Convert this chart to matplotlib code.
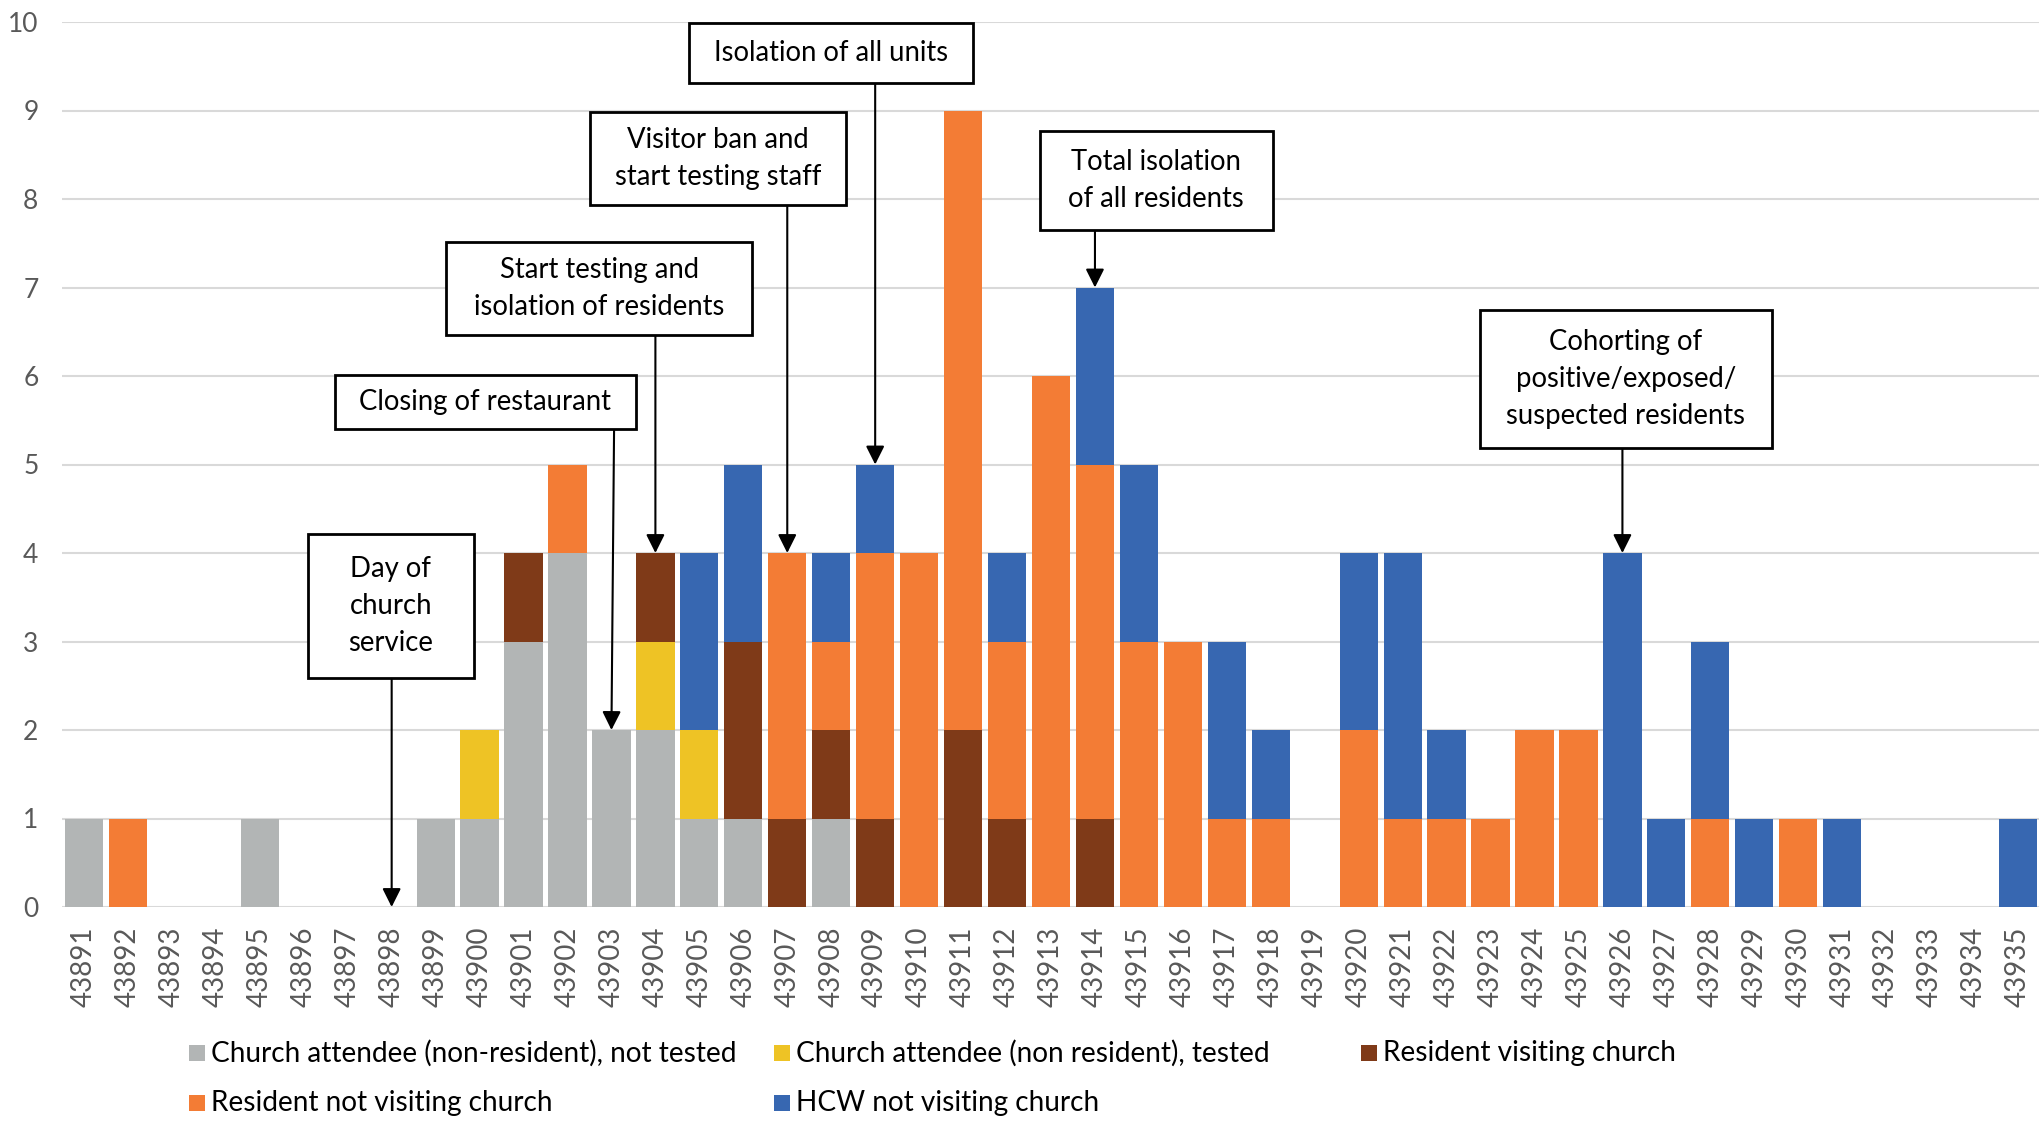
import matplotlib
matplotlib.use("Agg")
import matplotlib.pyplot as plt
from matplotlib.patches import Rectangle
import numpy as np

plt.rcParams['font.family'] = ['Lato', 'DejaVu Sans']

# Onset dates (serial day numbers)
dates = list(range(43891, 43936))

# Daily case counts per group
church_not_tested = [1, 0, 0, 0, 1, 0, 0, 0, 1, 1, 3, 4, 2, 2, 1, 1, 0, 1, 0, 0, 0, 0, 0, 0, 0,
                     0, 0, 0, 0, 0, 0, 0, 0, 0, 0, 0, 0, 0, 0, 0, 0, 0, 0, 0, 0]
church_tested = [0, 0, 0, 0, 0, 0, 0, 0, 0, 1, 0, 0, 0, 1, 1, 0, 0, 0, 0, 0, 0, 0, 0, 0, 0,
                 0, 0, 0, 0, 0, 0, 0, 0, 0, 0, 0, 0, 0, 0, 0, 0, 0, 0, 0, 0]
resident_church = [0, 0, 0, 0, 0, 0, 0, 0, 0, 0, 1, 0, 0, 1, 0, 2, 1, 1, 1, 0, 2, 1, 0, 1, 0,
                   0, 0, 0, 0, 0, 0, 0, 0, 0, 0, 0, 0, 0, 0, 0, 0, 0, 0, 0, 0]
resident_no_church = [0, 1, 0, 0, 0, 0, 0, 0, 0, 0, 0, 1, 0, 0, 0, 0, 3, 1, 3, 4, 7, 2, 6, 4, 3,
                      3, 1, 1, 0, 2, 1, 1, 1, 2, 2, 0, 0, 1, 0, 1, 0, 0, 0, 0, 0]
hcw = [0, 0, 0, 0, 0, 0, 0, 0, 0, 0, 0, 0, 0, 0, 2, 2, 0, 1, 1, 0, 0, 1, 0, 2, 2,
       0, 2, 1, 0, 2, 3, 1, 0, 0, 0, 4, 1, 2, 1, 0, 1, 0, 0, 0, 1]

series_names = [
    "Church attendee (non-resident), not tested",
    "Church attendee (non resident), tested",
    "Resident visiting church",
    "Resident not visiting church",
    "HCW not visiting church",
]
series_values = [church_not_tested, church_tested, resident_church, resident_no_church, hcw]
series_colors = ["#B2B5B5", "#EEC325", "#7F3A18", "#F37C35", "#3767B1"]

# Interventions: label, date, box centre (x in day slots, y in cases), box size
events = [
    ("Day of\nchurch\nservice", 43898, 6.98, 3.40, 3.77, 1.63),
    ("Closing of restaurant", 43903, 9.13, 5.71, 6.86, 0.61),
    ("Start testing and\nisolation of residents", 43904, 11.72, 6.99, 6.96, 1.05),
    ("Visitor ban and\nstart testing staff", 43907, 14.42, 8.46, 5.83, 1.05),
    ("Isolation of all units", 43909, 17.0, 9.65, 6.45, 0.68),
    ("Total isolation\nof all residents", 43914, 24.39, 8.21, 5.30, 1.11),
    ("Cohorting of\npositive/exposed/\nsuspected residents", 43926, 35.08, 5.97, 6.66, 1.56),
]
arrow_start_x = {43903: 12.06}

fig = plt.figure(figsize=(20.40, 11.21), dpi=100)
ax = fig.add_axes([62 / 2040, (1121 - 907) / 1121, 1 - 62 / 2040, (907 - 22) / 1121])

x = np.arange(len(dates))
bottom = np.zeros(len(dates))
for vals, col in zip(series_values, series_colors):
    v = np.array(vals, dtype=float)
    ax.bar(x, v, bottom=bottom, width=0.87, color=col, zorder=2, linewidth=0)
    bottom += v
totals = bottom

ax.set_xlim(-0.5, len(dates) - 0.5)
ax.set_ylim(0, 10)
ax.set_yticks(range(0, 11))
ax.yaxis.grid(True, color="#D9D9D9", linewidth=1.5, zorder=0)
ax.set_axisbelow(True)
for s in ax.spines.values():
    s.set_visible(False)
ax.set_xticks(x)
ax.set_xticklabels([str(d) for d in dates], rotation=90, fontsize=20, color="#595959")
ax.tick_params(axis="x", length=0, pad=14)
ax.tick_params(axis="y", length=0, pad=17, labelsize=19, labelcolor="#595959")

for label, day, cx, cy, w, h in events:
    i = dates.index(day)
    ax.add_patch(Rectangle((cx - w / 2, cy - h / 2), w, h, facecolor="white",
                           edgecolor="black", linewidth=2.0, zorder=5, clip_on=False))
    ax.text(cx, cy, label, ha="center", va="center", fontsize=19.8, color="black",
            zorder=6, linespacing=1.52)
    sx = arrow_start_x.get(day, i)
    ax.annotate("", xy=(i, totals[i]), xytext=(sx, cy - h / 2),
                arrowprops=dict(arrowstyle="-|>", color="black", lw=1.5,
                                mutation_scale=28, shrinkA=0, shrinkB=0),
                zorder=4)

# Legend laid out in fixed-width columns
col_x = [189, 774, 1361]
row_y = [1053, 1103]
order = [(0, 0), (0, 1), (0, 2), (1, 0), (1, 1)]
for (r, c), name, col in zip(order, series_names, series_colors):
    px, py = col_x[c], row_y[r]
    fig.add_artist(Rectangle((px / 2040, (1121 - py - 8) / 1121), 16 / 2040, 16 / 1121,
                             transform=fig.transFigure, facecolor=col, edgecolor="none"))
    fig.text((px + 22) / 2040, (1121 - py) / 1121, name, ha="left", va="center",
             fontsize=20.2, color="black")

fig.savefig("out.png", dpi=100)
